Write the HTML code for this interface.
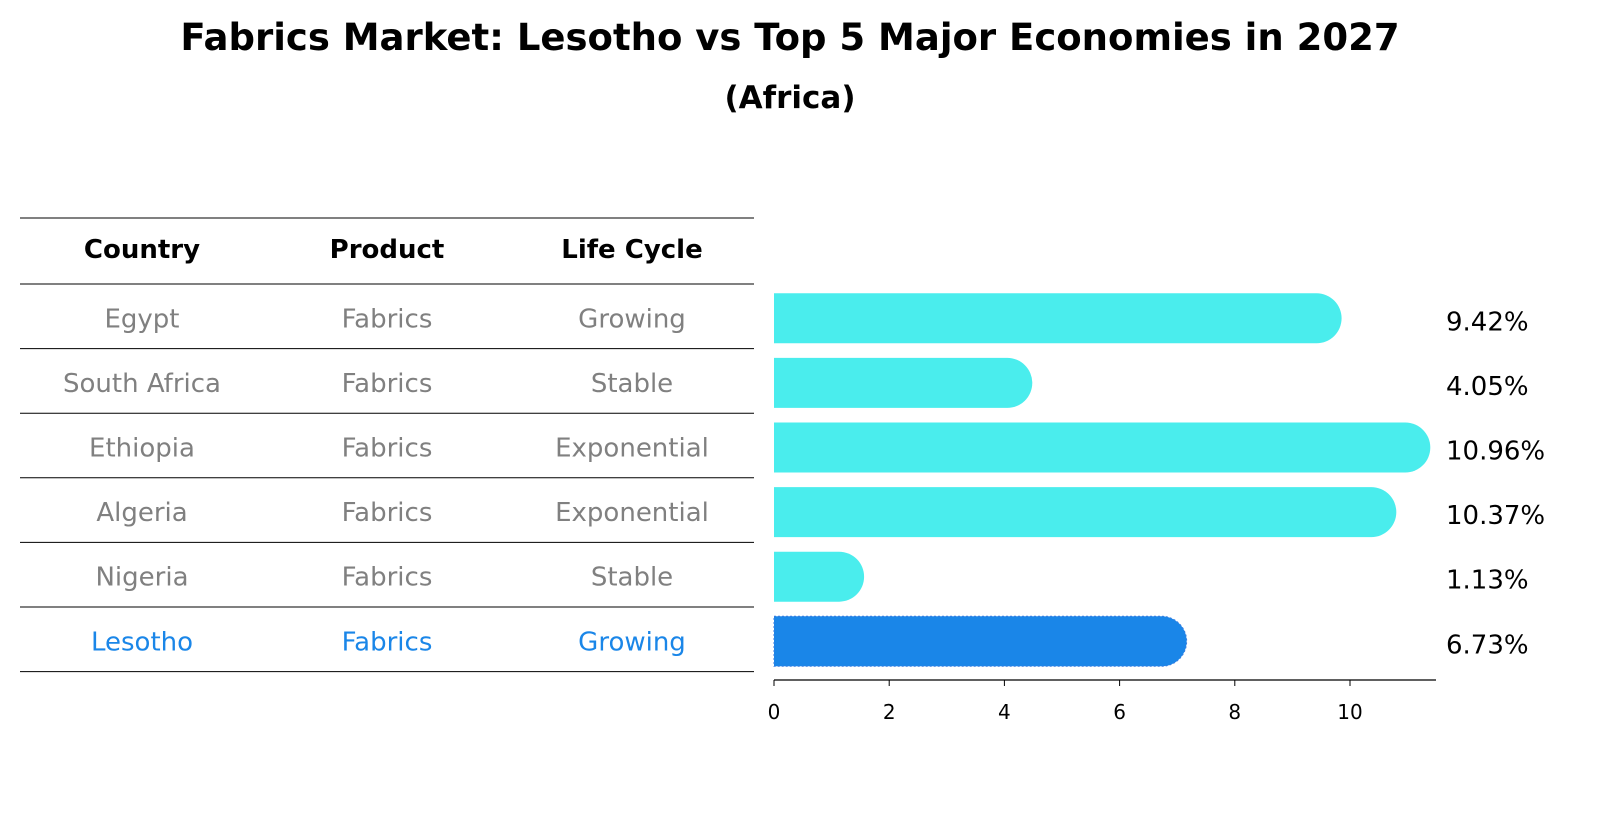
<!DOCTYPE html>
<html><head><meta charset="utf-8"><style>
body{margin:0;background:#fff;font-family:"Liberation Sans","DejaVu Sans",sans-serif;}
svg text{font-family:"DejaVu Sans","Liberation Sans",sans-serif;}
</style></head><body>
<svg id="c" width="1604" height="823" viewBox="0 0 1604 823" xmlns="http://www.w3.org/2000/svg">
<text x="790" y="50" text-anchor="middle" font-size="37" font-weight="bold">Fabrics Market: Lesotho vs Top 5 Major Economies in 2027</text>
<text x="790" y="108" text-anchor="middle" font-size="31" font-weight="bold">(Africa)</text>
<g id="table"></g>
<g id="bars"></g>
<g id="axis"></g>
</svg>
<script>
const countries=["Egypt","South Africa","Ethiopia","Algeria","Nigeria","Lesotho"];
const products=["Fabrics","Fabrics","Fabrics","Fabrics","Fabrics","Fabrics"];
const lifeCycles=["Growing","Stable","Exponential","Exponential","Stable","Growing"];
const values=[9.42,4.05,10.96,10.37,1.13,6.73];
const ticks=[0,2,4,6,8,10];
const NS="http://www.w3.org/2000/svg";
const x0=774,ppu=57.6,rowTop=286,rowH=64.6,barH=50;
const xs=v=>x0+v*ppu;
const yc=i=>rowTop+rowH*(i+0.5);
function mk(tag,attrs,parent){const e=document.createElementNS(NS,tag);for(const k in attrs)e.setAttribute(k,attrs[k]);parent.appendChild(e);return e;}
const tbl=document.getElementById('table'),bars=document.getElementById('bars'),ax=document.getElementById('axis');
const colX=[142,387,632],heads=["Country","Product","Life Cycle"];
heads.forEach((h,j)=>{const t=mk('text',{x:colX[j],y:258,'text-anchor':'middle','font-size':26,'font-weight':'bold'},tbl);t.textContent=h;

});
const lineYs=[218,284];
countries.forEach((c,i)=>lineYs.push(284+rowH*(i+1)));
lineYs.forEach(y=>{const l=mk('line',{x1:20,x2:754,y1:y,y2:y,stroke:'#000','stroke-width':1},tbl);

});
countries.forEach((c,i)=>{
 const last=i===countries.length-1;const col=last?'#1a86e8':'#808080';
 [c,products[i],lifeCycles[i]].forEach((v,j)=>{const t=mk('text',{x:colX[j],y:yc(i)+9,'text-anchor':'middle','font-size':26,fill:col},tbl);t.textContent=v;
 
 });
 const fill=last?'#1a86e8':'#4aeded';
 const y=yc(i)-barH/2,r=barH/2,w=xs(values[i])-x0;
 const p=mk('path',{d:`M${x0},${y} h${w} a${r},${r} 0 0 1 0,${barH} h${-w} z`,fill:fill},bars);
 if(last){p.setAttribute('stroke','#3a7de0');p.setAttribute('stroke-dasharray','2,2');}
 
 
 const t=mk('text',{x:1446,y:yc(i)+12,'font-size':26},bars);t.textContent=values[i].toFixed(2)+'%';
 
 
});
const al=mk('line',{x1:774,x2:1436,y1:680,y2:680,stroke:'#000','stroke-width':1.2},ax);


ticks.forEach(v=>{mk('line',{x1:xs(v),x2:xs(v),y1:680,y2:686,stroke:'#000'},ax);
 const t=mk('text',{x:xs(v),y:719,'text-anchor':'middle','font-size':20},ax);t.textContent=v;
 
 });
</script>
</body></html>
